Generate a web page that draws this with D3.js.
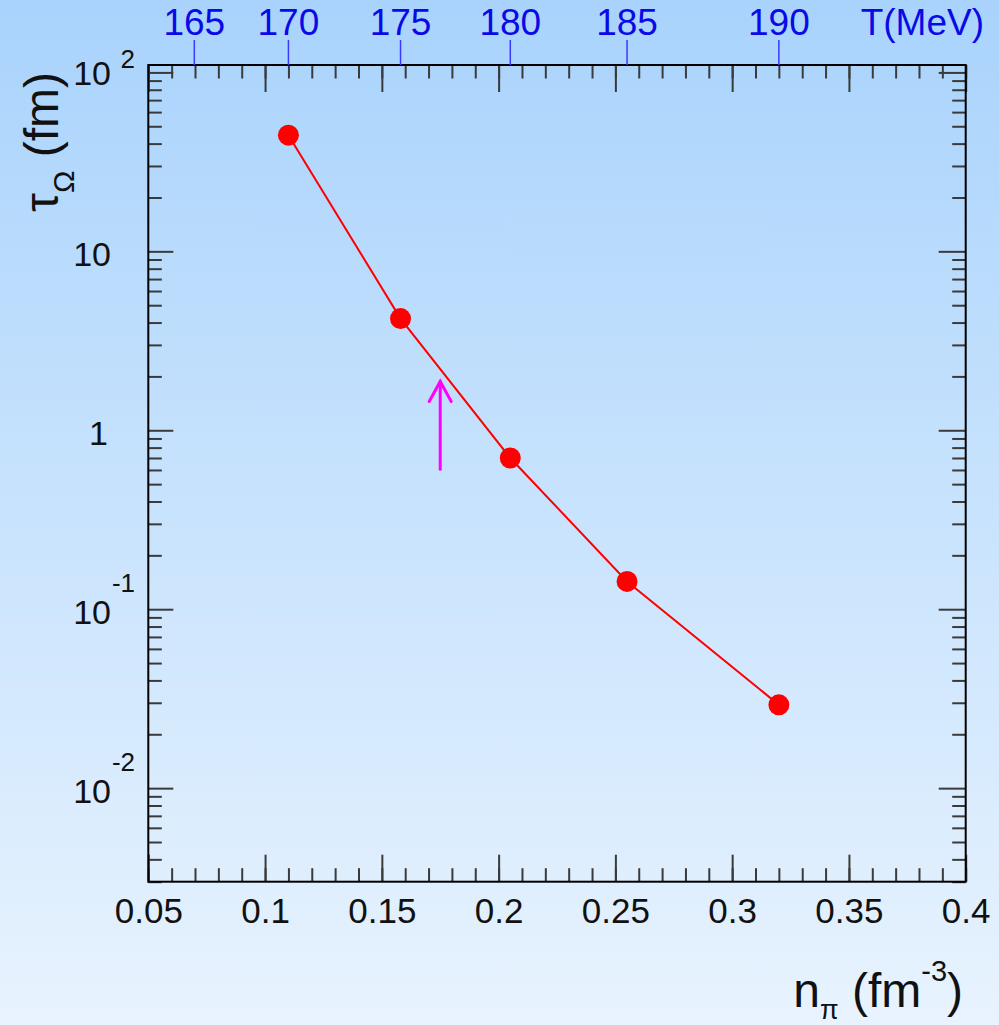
<!DOCTYPE html>
<html>
<head>
<meta charset="utf-8">
<script src="https://cdn.jsdelivr.net/npm/d3@7"></script>
<style>
  html, body { margin: 0; padding: 0; background: #ffffff; }
  svg { display: block; }
  text { font-family: "Liberation Sans", Arial, Helvetica, sans-serif; }
</style>
</head>
<body>
<script>
// Pion density n_pi (fm^-3) at each computed temperature
const nPi = [0.11, 0.158, 0.205, 0.255, 0.32];
// Omega relaxation time tau_Omega (fm)
const tauOmega = [44.6, 4.21, 0.70, 0.143, 0.0292];

// Bottom axis ticks
const xMajor = [0.05, 0.1, 0.15, 0.2, 0.25, 0.3, 0.35, 0.4];
const xMajorLabels = ["0.05", "0.1", "0.15", "0.2", "0.25", "0.3", "0.35", "0.4"];
const xMinor = d3.range(5, 41).map(d => d / 100);

// Left axis decades and their labels (base, exponent)
const yDecades = [100, 10, 1, 0.1, 0.01];
const yBase = ["10", "10", "1", "10", "10"];
const yExp = ["2", "", "", "-1", "-2"];
const yMinor = [0.003, 0.004, 0.005, 0.006, 0.007, 0.008, 0.009,
  0.02, 0.03, 0.04, 0.05, 0.06, 0.07, 0.08, 0.09,
  0.2, 0.3, 0.4, 0.5, 0.6, 0.7, 0.8, 0.9,
  2, 3, 4, 5, 6, 7, 8, 9,
  20, 30, 40, 50, 60, 70, 80, 90];

// Temperature scale along the top, placed at the matching pion density
const tempLabels = ["165", "170", "175", "180", "185", "190"];
const tempAtN = [0.0697, 0.11, 0.158, 0.205, 0.255, 0.32];

// Marker arrow (pion density, tau from, tau to)
const arrowN = 0.175;
const arrowFrom = 0.605;
const arrowTo = 1.875;

const W = 999, H = 1025;
const frame = { left: 148.3, right: 965.7, top: 65, bottom: 881.7 };

const svg = d3.select("body").append("svg")
  .attr("width", W).attr("height", H);

// Background gradient
const defs = svg.append("defs");
const grad = defs.append("linearGradient").attr("id", "bg")
  .attr("x1", 0).attr("y1", 0).attr("x2", 0).attr("y2", 1);
grad.append("stop").attr("offset", "0%").attr("stop-color", "#a9d3fc");
grad.append("stop").attr("offset", "100%").attr("stop-color", "#e8f3fe");
svg.append("rect").attr("width", W).attr("height", H).attr("fill", "url(#bg)");

const x = d3.scaleLinear().domain([0.05, 0.4]).range([frame.left, frame.right]);
const y = d3.scaleLog().domain([0.003, 110]).range([frame.bottom, frame.top]);

const tickColor = "#3a3a3a";
const majorLen = 27, minorLen = 13.5;

function styleAxis(g) {
  g.select(".domain").remove();
  g.selectAll(".tick line").attr("stroke", tickColor).attr("stroke-width", 2);
}

// Bottom axis: minor and major ticks pointing inward, with labels
svg.append("g").attr("transform", `translate(0,${frame.bottom})`)
  .call(d3.axisBottom(x).tickValues(xMinor).tickSize(-minorLen).tickFormat(""))
  .call(styleAxis);
svg.append("g").attr("transform", `translate(0,${frame.bottom})`)
  .call(d3.axisBottom(x).tickValues(xMajor).tickSize(-majorLen).tickPadding(16)
    .tickFormat((d, i) => xMajorLabels[i]))
  .call(styleAxis)
  .call(g => g.selectAll(".tick text").attr("fill", "#111").attr("font-size", 35)
    .attr("font-family", "Liberation Sans, Arial, sans-serif"));

// Top axis mirrored ticks
svg.append("g").attr("transform", `translate(0,${frame.top})`)
  .call(d3.axisTop(x).tickValues(xMinor).tickSize(-minorLen).tickFormat(""))
  .call(styleAxis);
svg.append("g").attr("transform", `translate(0,${frame.top})`)
  .call(d3.axisTop(x).tickValues(xMajor).tickSize(-majorLen).tickFormat(""))
  .call(styleAxis);

// Left and right log axes
svg.append("g").attr("transform", `translate(${frame.left},0)`)
  .call(d3.axisLeft(y).tickValues(yMinor).tickSize(-minorLen).tickFormat(""))
  .call(styleAxis);
svg.append("g").attr("transform", `translate(${frame.left},0)`)
  .call(d3.axisLeft(y).tickValues(yDecades).tickSize(-25).tickFormat(""))
  .call(styleAxis);
svg.append("g").attr("transform", `translate(${frame.right},0)`)
  .call(d3.axisRight(y).tickValues(yMinor).tickSize(-minorLen).tickFormat(""))
  .call(styleAxis);
svg.append("g").attr("transform", `translate(${frame.right},0)`)
  .call(d3.axisRight(y).tickValues(yDecades).tickSize(-27).tickFormat(""))
  .call(styleAxis);

// Decade labels on the left axis
const yLab = svg.append("g").attr("fill", "#111");
yDecades.forEach((v, i) => {
  const yy = y(v);
  const isTop = i === 0;
  yLab.append("text")
    .attr("x", yBase[i] === "1" ? 108 : 111)
    .attr("y", yy + (isTop ? 13 : 14.5))
    .attr("text-anchor", "end")
    .attr("font-size", 34)
    .text(yBase[i]);
  if (yExp[i]) {
    yLab.append("text")
      .attr("x", 135)
      .attr("y", yy + (isTop ? -4.5 : -17))
      .attr("text-anchor", "end")
      .attr("font-size", 26)
      .text(yExp[i]);
  }
});

// Frame
svg.append("rect")
  .attr("x", frame.left).attr("y", frame.top)
  .attr("width", frame.right - frame.left).attr("height", frame.bottom - frame.top)
  .attr("fill", "none").attr("stroke", "#000").attr("stroke-width", 2);

// Temperature scale above the frame
const tAxis = svg.append("g");
tAxis.selectAll("line").data(tempAtN).join("line")
  .attr("x1", d => x(d)).attr("x2", d => x(d))
  .attr("y1", 40).attr("y2", frame.top)
  .attr("stroke", "#3a3aff").attr("stroke-width", 1.5);
tAxis.selectAll("text").data(tempAtN).join("text")
  .attr("x", d => x(d)).attr("y", 35)
  .attr("text-anchor", "middle")
  .attr("font-size", 37)
  .attr("fill", "#0a0ae6")
  .text((d, i) => tempLabels[i]);
tAxis.append("text")
  .attr("x", 984).attr("y", 35)
  .attr("text-anchor", "end")
  .attr("font-size", 37)
  .attr("fill", "#0a0ae6")
  .text("T(MeV)");

// Relaxation-time curve
const pts = nPi.map((n, i) => [n, tauOmega[i]]);
svg.append("path")
  .datum(pts)
  .attr("fill", "none")
  .attr("stroke", "#ff0000")
  .attr("stroke-width", 2)
  .attr("d", d3.line().x(d => x(d[0])).y(d => y(d[1])));
svg.selectAll("circle.pt").data(pts).join("circle")
  .attr("class", "pt")
  .attr("cx", d => x(d[0])).attr("cy", d => y(d[1]))
  .attr("r", 10.5)
  .attr("fill", "#ff0000");

// Magenta arrow
const ax = x(arrowN), ay0 = y(arrowFrom), ay1 = y(arrowTo);
const arrow = svg.append("g").attr("stroke", "#ff00ff").attr("stroke-width", 3)
  .attr("fill", "none").attr("stroke-linecap", "round");
arrow.append("line").attr("x1", ax).attr("x2", ax).attr("y1", ay0).attr("y2", ay1);
arrow.append("path")
  .attr("d", `M${ax - 11},${ay1 + 20}L${ax},${ay1}L${ax + 11},${ay1 + 20}`)
  .attr("stroke-linejoin", "miter");

// Axis titles
const yTitle = svg.append("text")
  .attr("transform", `translate(58,72) rotate(-90)`)
  .attr("text-anchor", "end")
  .attr("font-size", 48)
  .attr("fill", "#111");
yTitle.append("tspan").text("τ");
yTitle.append("tspan").attr("dy", 16).attr("font-size", 30).text("Ω");
yTitle.append("tspan").attr("dy", -16).text(" (fm)");

const xTitle = svg.append("text")
  .attr("x", 963).attr("y", 1007)
  .attr("text-anchor", "end")
  .attr("font-size", 48)
  .attr("fill", "#111");
xTitle.append("tspan").text("n");
xTitle.append("tspan").attr("dy", 12).attr("font-size", 27).text("π");
xTitle.append("tspan").attr("dy", -12).text(" (fm");
xTitle.append("tspan").attr("dy", -26).attr("font-size", 29).text("-3");
xTitle.append("tspan").attr("dy", 26).text(")");
</script>
</body>
</html>
